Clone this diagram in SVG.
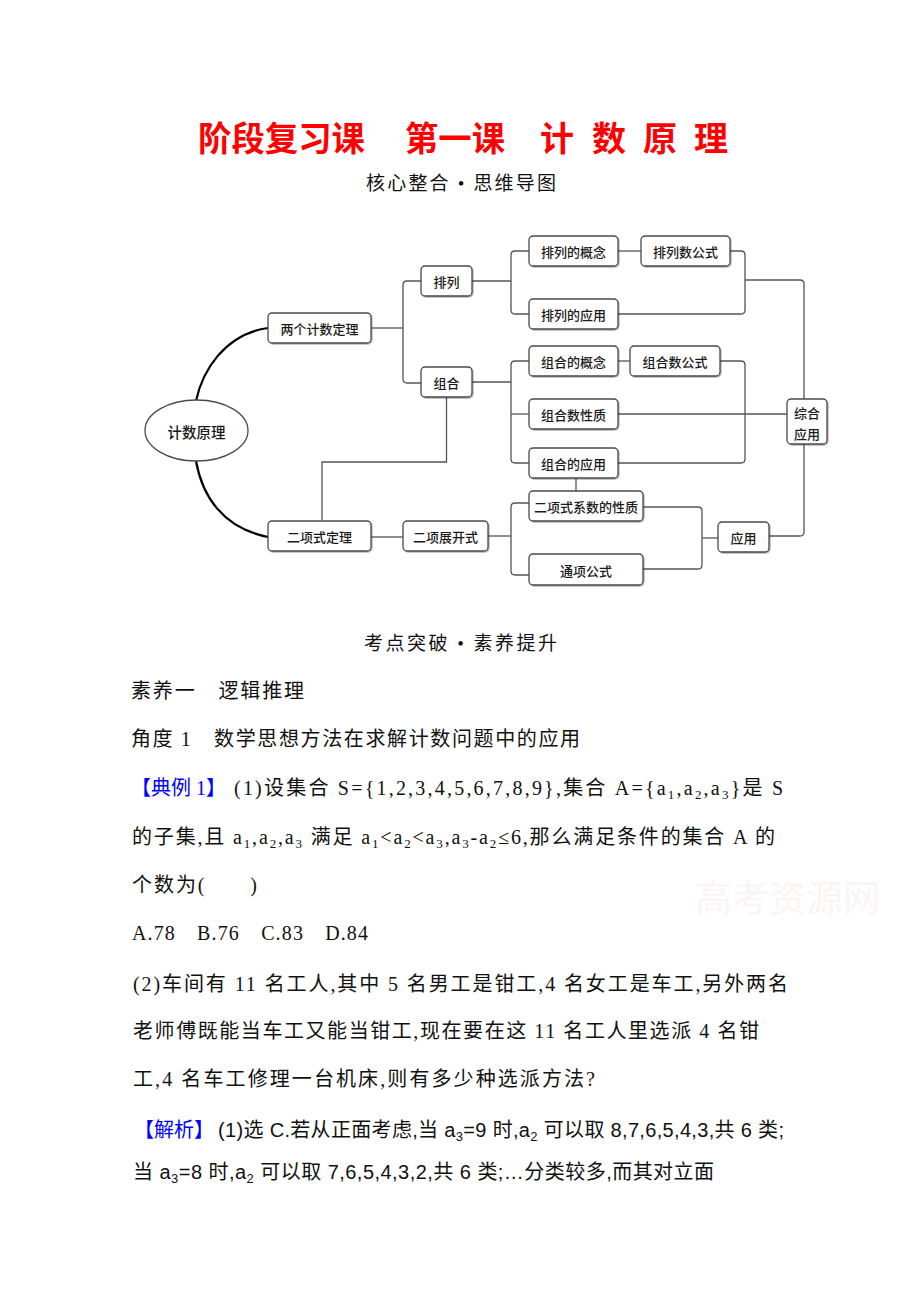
<svg xmlns="http://www.w3.org/2000/svg" width="920" height="1302" viewBox="0 0 920 1302">
<defs>
<filter id="sh" x="-10%" y="-10%" width="130%" height="140%">
<feDropShadow dx="1" dy="1" stdDeviation="0.7" flood-color="#000" flood-opacity="0.3"/>
</filter>
<style>
.box{fill:#fff;stroke:#4a4a4a;stroke-width:1.3;filter:url(#sh)}
.bt{font-family:"Noto Sans CJK SC",sans-serif;font-size:13px;font-weight:500;fill:#1a1a1a;text-anchor:middle;dominant-baseline:central}
.conn path{fill:none;stroke:#555;stroke-width:1.3}
.conn path.curve{fill:none;stroke:#000;stroke-width:2.2}
.title{font-family:"Noto Sans CJK SC",sans-serif;font-size:34px;font-weight:700;fill:#ff0000;dominant-baseline:central}
.sub{font-family:"Liberation Serif","Noto Sans CJK SC",serif;font-size:19px;fill:#111;dominant-baseline:central}
.body{font-family:"Liberation Serif","Noto Sans CJK SC",serif;font-size:20px;fill:#111}
.body2{font-family:"Liberation Sans","Noto Sans CJK SC",sans-serif;font-size:20px;fill:#111}
.blue{fill:#0000ff}
</style>
</defs>
<rect width="920" height="1302" fill="#fff"/>

<!-- Title -->
<g id="title">
<text class="title" x="198" y="136" textLength="167" lengthAdjust="spacingAndGlyphs">阶段复习课</text>
<text class="title" x="405" y="136" textLength="100" lengthAdjust="spacingAndGlyphs">第一课</text>
<text class="title" x="540" y="136">计</text>
<text class="title" x="592" y="136">数</text>
<text class="title" x="643" y="136">原</text>
<text class="title" x="694" y="136">理</text>
</g>
<text class="sub" x="366" y="183" textLength="190" lengthAdjust="spacing">核心整合 • 思维导图</text>

<!-- Connectors -->
<g id="connectors" class="conn">
<path class="curve" d="M196,401 C202,372 224,334 268,328"/>
<path class="curve" d="M196,461 C202,495 222,528 268,537"/>
<path d="M371,328 H403"/>
<path d="M421,281 H407 Q403,281 403,285 V379 Q403,383 407,383 H421"/>
<path d="M472,281 H511"/>
<path d="M529,251 H515 Q511,251 511,255 V310 Q511,314 515,314 H529"/>
<path d="M618,251 H641"/>
<path d="M730,251 H741 Q745,251 745,255 V310 Q745,314 741,314 H618"/>
<path d="M745,280 H800 Q804,280 804,284 V399"/>
<path d="M472,382 H511"/>
<path d="M529,361 H515 Q511,361 511,365 V459 Q511,463 515,463 H529"/>
<path d="M511,414 H529"/>
<path d="M618,361 H630"/>
<path d="M720,361 H741 Q745,361 745,365 V459 Q745,463 741,463 H618"/>
<path d="M618,414 H787"/>
<path d="M576,478 V491"/>
<path d="M446.5,397 V462 H322 V520"/>
<path d="M371,537 H403"/>
<path d="M488,536 H511"/>
<path d="M529,503 H515 Q511,503 511,507 V571 Q511,575 515,575 H529"/>
<path d="M643,507 H698 Q702,507 702,511 V565 Q702,569 698,569 H643"/>
<path d="M702,538 H718"/>
<path d="M769,536 H800 Q804,536 804,532 V444"/>
</g>

<!-- Nodes -->
<g id="n-root">
<ellipse cx="196.5" cy="430.5" rx="51.5" ry="30.5" fill="#fff" stroke="#4a4a4a" stroke-width="1.3"/>
<text class="bt" x="196.5" y="431" style="font-size:14.5px">计数原理</text>
</g>
<g id="n-liang"><rect class="box" x="268" y="313" width="103" height="30" rx="4"/><text class="bt" x="319.5" y="328">两个计数定理</text></g>
<g id="n-erxiang"><rect class="box" x="268" y="521" width="103" height="30" rx="4"/><text class="bt" x="319.5" y="536">二项式定理</text></g>
<g id="n-pailie"><rect class="box" x="421" y="266" width="51" height="30" rx="4"/><text class="bt" x="446.5" y="281">排列</text></g>
<g id="n-zuhe"><rect class="box" x="421" y="367" width="51" height="30" rx="4"/><text class="bt" x="446.5" y="382">组合</text></g>
<g id="n-zhankai"><rect class="box" x="403" y="521" width="85" height="30" rx="4"/><text class="bt" x="445.5" y="536">二项展开式</text></g>
<g id="n-plgn"><rect class="box" x="529" y="236" width="89" height="30" rx="4"/><text class="bt" x="573.5" y="251">排列的概念</text></g>
<g id="n-plgs"><rect class="box" x="641" y="236" width="89" height="30" rx="4"/><text class="bt" x="685.5" y="251">排列数公式</text></g>
<g id="n-plyy"><rect class="box" x="529" y="299" width="89" height="30" rx="4"/><text class="bt" x="573.5" y="314">排列的应用</text></g>
<g id="n-zhgn"><rect class="box" x="529" y="346" width="89" height="30" rx="4"/><text class="bt" x="573.5" y="361">组合的概念</text></g>
<g id="n-zhgs"><rect class="box" x="630" y="346" width="90" height="30" rx="4"/><text class="bt" x="675" y="361">组合数公式</text></g>
<g id="n-zhxz"><rect class="box" x="529" y="399" width="89" height="30" rx="4"/><text class="bt" x="573.5" y="414">组合数性质</text></g>
<g id="n-zhyy"><rect class="box" x="529" y="448" width="89" height="30" rx="4"/><text class="bt" x="573.5" y="463">组合的应用</text></g>
<g id="n-xishu"><rect class="box" x="529" y="491" width="114" height="30" rx="4"/><text class="bt" x="586" y="506">二项式系数的性质</text></g>
<g id="n-tongxiang"><rect class="box" x="529" y="554" width="114" height="31" rx="4"/><text class="bt" x="586" y="570">通项公式</text></g>
<g id="n-yingyong"><rect class="box" x="718" y="522" width="51" height="30" rx="4"/><text class="bt" x="743.5" y="537">应用</text></g>
<g id="n-zonghe"><rect class="box" x="787" y="399" width="40" height="45" rx="4"/><text class="bt" x="807" y="412">综合</text><text class="bt" x="807" y="433">应用</text></g>

<!-- Body text -->
<text class="sub" x="364" y="643" textLength="193" lengthAdjust="spacing">考点突破 • 素养提升</text>
<text class="body" x="131" y="698" textLength="173" lengthAdjust="spacing">素养一　逻辑推理</text>
<text class="body" x="131" y="746" textLength="449" lengthAdjust="spacing">角度 1　数学思想方法在求解计数问题中的应用</text>
<text class="body blue" x="131" y="795" textLength="95" lengthAdjust="spacing">【典例 1】</text>
<text class="body" x="234" y="795" textLength="549" lengthAdjust="spacing">(1)设集合 S={1,2,3,4,5,6,7,8,9},集合 A={a<tspan font-size="13" dy="4">1</tspan><tspan dy="-4">,a</tspan><tspan font-size="13" dy="4">2</tspan><tspan dy="-4">,a</tspan><tspan font-size="13" dy="4">3</tspan><tspan dy="-4">}是 S</tspan></text>
<text class="body" x="132" y="844" textLength="643" lengthAdjust="spacing">的子集,且 a<tspan font-size="13" dy="4">1</tspan><tspan dy="-4">,a</tspan><tspan font-size="13" dy="4">2</tspan><tspan dy="-4">,a</tspan><tspan font-size="13" dy="4">3</tspan><tspan dy="-4"> 满足 a</tspan><tspan font-size="13" dy="4">1</tspan><tspan dy="-4">&lt;a</tspan><tspan font-size="13" dy="4">2</tspan><tspan dy="-4">&lt;a</tspan><tspan font-size="13" dy="4">3</tspan><tspan dy="-4">,a</tspan><tspan font-size="13" dy="4">3</tspan><tspan dy="-4">-a</tspan><tspan font-size="13" dy="4">2</tspan><tspan dy="-4">≤6,那么满足条件的集合 A 的</tspan></text>
<text class="body" x="132" y="892" textLength="125" lengthAdjust="spacing">个数为(　　)</text>
<text x="695" y="912" font-family="Noto Sans CJK SC,sans-serif" font-size="37" fill="#fbf4f4" textLength="185" lengthAdjust="spacing">高考资源网</text>
<text class="body" x="132" y="940" textLength="236" lengthAdjust="spacing">A.78　B.76　C.83　D.84</text>
<text class="body" x="133" y="991" textLength="655" lengthAdjust="spacing">(2)车间有 11 名工人,其中 5 名男工是钳工,4 名女工是车工,另外两名</text>
<text class="body" x="133" y="1038" textLength="626" lengthAdjust="spacing">老师傅既能当车工又能当钳工,现在要在这 11 名工人里选派 4 名钳</text>
<text class="body" x="133" y="1086" textLength="462" lengthAdjust="spacing">工,4 名车工修理一台机床,则有多少种选派方法?</text>
<text class="body2 blue" x="134" y="1137" textLength="80" lengthAdjust="spacing">【解析】</text>
<text class="body2" x="218" y="1137" textLength="566" lengthAdjust="spacing">(1)选 C.若从正面考虑,当 a<tspan font-size="13" dy="4">3</tspan><tspan dy="-4">=9 时,a</tspan><tspan font-size="13" dy="4">2</tspan><tspan dy="-4"> 可以取 8,7,6,5,4,3,共 6 类;</tspan></text>
<text class="body2" x="133" y="1179" textLength="581" lengthAdjust="spacing">当 a<tspan font-size="13" dy="4">3</tspan><tspan dy="-4">=8 时,a</tspan><tspan font-size="13" dy="4">2</tspan><tspan dy="-4"> 可以取 7,6,5,4,3,2,共 6 类;…分类较多,而其对立面</tspan></text>
</svg>
